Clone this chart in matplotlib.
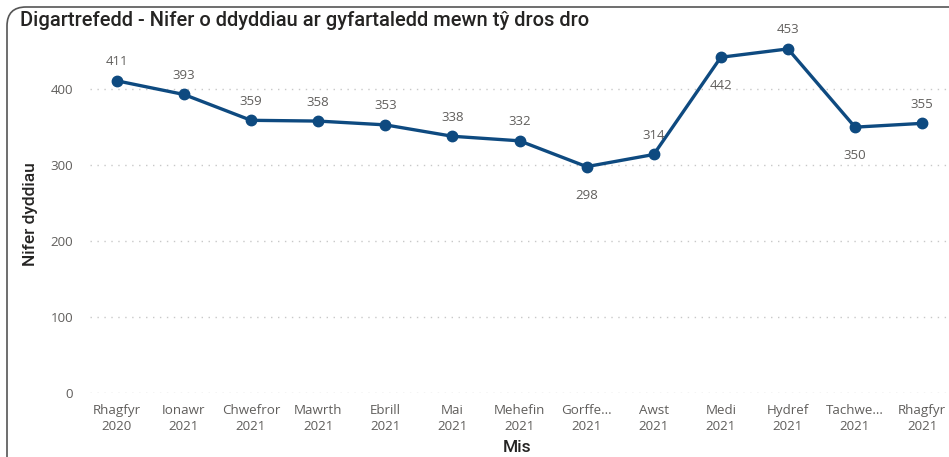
import matplotlib
matplotlib.use("Agg")
import matplotlib.pyplot as plt
from matplotlib.patches import FancyBboxPatch

months = ["Rhagfyr\n2020", "Ionawr\n2021", "Chwefror\n2021", "Mawrth\n2021", "Ebrill\n2021",
          "Mai\n2021", "Mehefin\n2021", "Gorffe...\n2021", "Awst\n2021", "Medi\n2021",
          "Hydref\n2021", "Tachwe...\n2021", "Rhagfyr\n2021"]
values = [411, 393, 359, 358, 353, 338, 332, 298, 314, 442, 453, 350, 355]
label_below = [False, False, False, False, False, False, False, True, False, True, False, True, False]
yticks = [0, 100, 200, 300, 400]

plt.rcParams['font.family'] = ['Open Sans', 'DejaVu Sans']

fig = plt.figure(figsize=(9.49, 4.57), dpi=100)
ax = fig.add_axes([90/949, 1-393/457, 1-90/949, (393-36)/457])

line_color = "#0E4A80"
grey = "#605E5C"
x = list(range(len(values)))
ax.plot(x, values, color=line_color, lw=2.4, marker="o", markersize=7.5, zorder=3)

for xi, v, below in zip(x, values, label_below):
    if below:
        ax.annotate(str(v), (xi, v), xytext=(0, -16), textcoords="offset points",
                    ha="center", va="top", fontsize=9.5, color=grey)
    else:
        ax.annotate(str(v), (xi, v), xytext=(0, 9), textcoords="offset points",
                    ha="center", va="bottom", fontsize=9.5, color=grey)

ax.set_xlim(-0.4, 12.4)
ax.set_ylim(0, 470)
ax.set_yticks(yticks)
ax.set_yticklabels([str(t) for t in yticks])
ax.set_xticks(x)
ax.set_xticklabels(months)
ax.tick_params(axis="both", length=0, labelsize=9.6, labelcolor=grey)
ax.tick_params(axis="y", pad=12)
ax.tick_params(axis="x", pad=8)
for lab in ax.get_xticklabels():
    lab.set_linespacing(1.25)

ax.grid(axis="y", linestyle=(0, (1, 4)), color="#C8C8C8", lw=1)
ax.set_axisbelow(True)
for s in ax.spines.values():
    s.set_visible(False)

ax.set_ylabel("Nifer dyddiau", fontsize=12.5, color="#252423", family=["Roboto", "DejaVu Sans"],
              fontweight="medium", va="center")
ax.yaxis.set_label_coords(-60/859, 0.5)
ax.set_xlabel("Mis", fontsize=12.5, color="#252423", family=["Roboto", "DejaVu Sans"],
              fontweight="medium", va="center")
ax.xaxis.set_label_coords(0.497, -54/357)

fig.text(20/949, 1-20/457, "Digartrefedd - Nifer o ddyddiau ar gyfartaledd mewn tŷ dros dro",
         fontsize=14.5, color="#252423", family=["Roboto", "DejaVu Sans"], fontweight="medium",
         va="center", ha="left")

border = FancyBboxPatch((7/949, -0.05), 1.2, 1 - 7/457 + 0.05,
                        boxstyle="round,pad=0,rounding_size=0.02",
                        transform=fig.transFigure, fill=False, edgecolor="#555555", lw=1.2,
                        mutation_aspect=949/457)
fig.patches.append(border)

fig.savefig("out.png", dpi=100)
